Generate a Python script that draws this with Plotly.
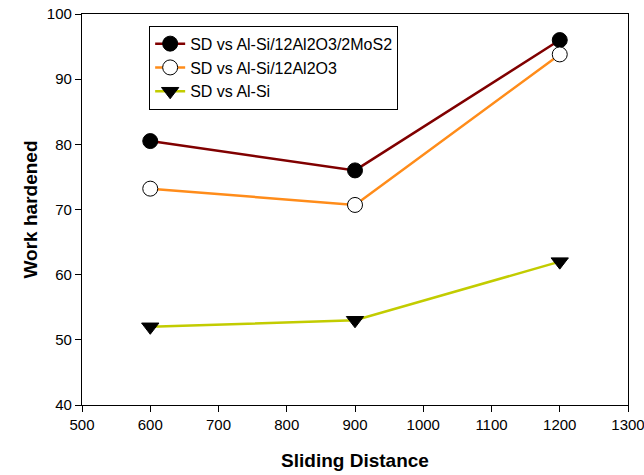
import plotly.graph_objects as go

# Sliding distance (x) and work-hardening values for each material
sliding_distance = [600, 900, 1200]
al_si_al2o3_mos2 = [80.5, 76.0, 96.0]
al_si_al2o3 = [73.2, 70.7, 93.8]
al_si = [52.0, 53.0, 62.0]

series_names = [
    "SD vs Al-Si/12Al2O3/2MoS2",
    "SD vs Al-Si/12Al2O3",
    "SD vs Al-Si",
]

x_ticks = [500, 600, 700, 800, 900, 1000, 1100, 1200, 1300]
y_ticks = [40, 50, 60, 70, 80, 90, 100]

FONT = "Arial, Liberation Sans, sans-serif"

fig = go.Figure()

fig.add_trace(go.Scatter(
    x=sliding_distance, y=al_si_al2o3_mos2, name=series_names[0],
    mode="lines+markers",
    line=dict(color="#800000", width=2.5),
    marker=dict(symbol="circle", size=15, color="black",
                line=dict(color="black", width=1)),
))
fig.add_trace(go.Scatter(
    x=sliding_distance, y=al_si_al2o3, name=series_names[1],
    mode="lines+markers",
    line=dict(color="#ff8c1a", width=2.5),
    marker=dict(symbol="circle", size=15, color="white",
                line=dict(color="black", width=1)),
))
fig.add_trace(go.Scatter(
    x=sliding_distance, y=al_si, name=series_names[2],
    mode="lines+markers",
    line=dict(color="#c2cc00", width=2.5),
    marker=dict(symbol="triangle-down", size=15, color="black",
                line=dict(color="black", width=1)),
))

axis_common = dict(
    showgrid=False, zeroline=False,
    showline=True, linecolor="black", linewidth=1.2, mirror=True,
    ticks="outside", ticklen=6, tickcolor="black", tickwidth=1,
    tickfont=dict(family=FONT, size=15, color="black"),
    ticklabeloverflow="allow",
)

fig.update_xaxes(
    range=[500, 1300], tickvals=x_ticks,
    title=dict(text="<b>Sliding Distance</b>", standoff=21,
               font=dict(family=FONT, size=19, color="black")),
    **axis_common,
)
fig.update_yaxes(
    range=[40, 100], tickvals=y_ticks,
    title=dict(text="<b>Work hardened</b>", standoff=4,
               font=dict(family=FONT, size=19, color="black")),
    **axis_common,
)

fig.update_layout(
    width=644, height=475,
    margin=dict(l=82, r=16, t=14, b=70, autoexpand=False),
    paper_bgcolor="white", plot_bgcolor="white",
    legend=dict(
        x=0.123, y=0.97, xanchor="left", yanchor="top",
        bgcolor="white", bordercolor="black", borderwidth=1,
        font=dict(family=FONT, size=16, color="black"),
        tracegroupgap=0,
    ),
)

fig.write_html("out.html")
